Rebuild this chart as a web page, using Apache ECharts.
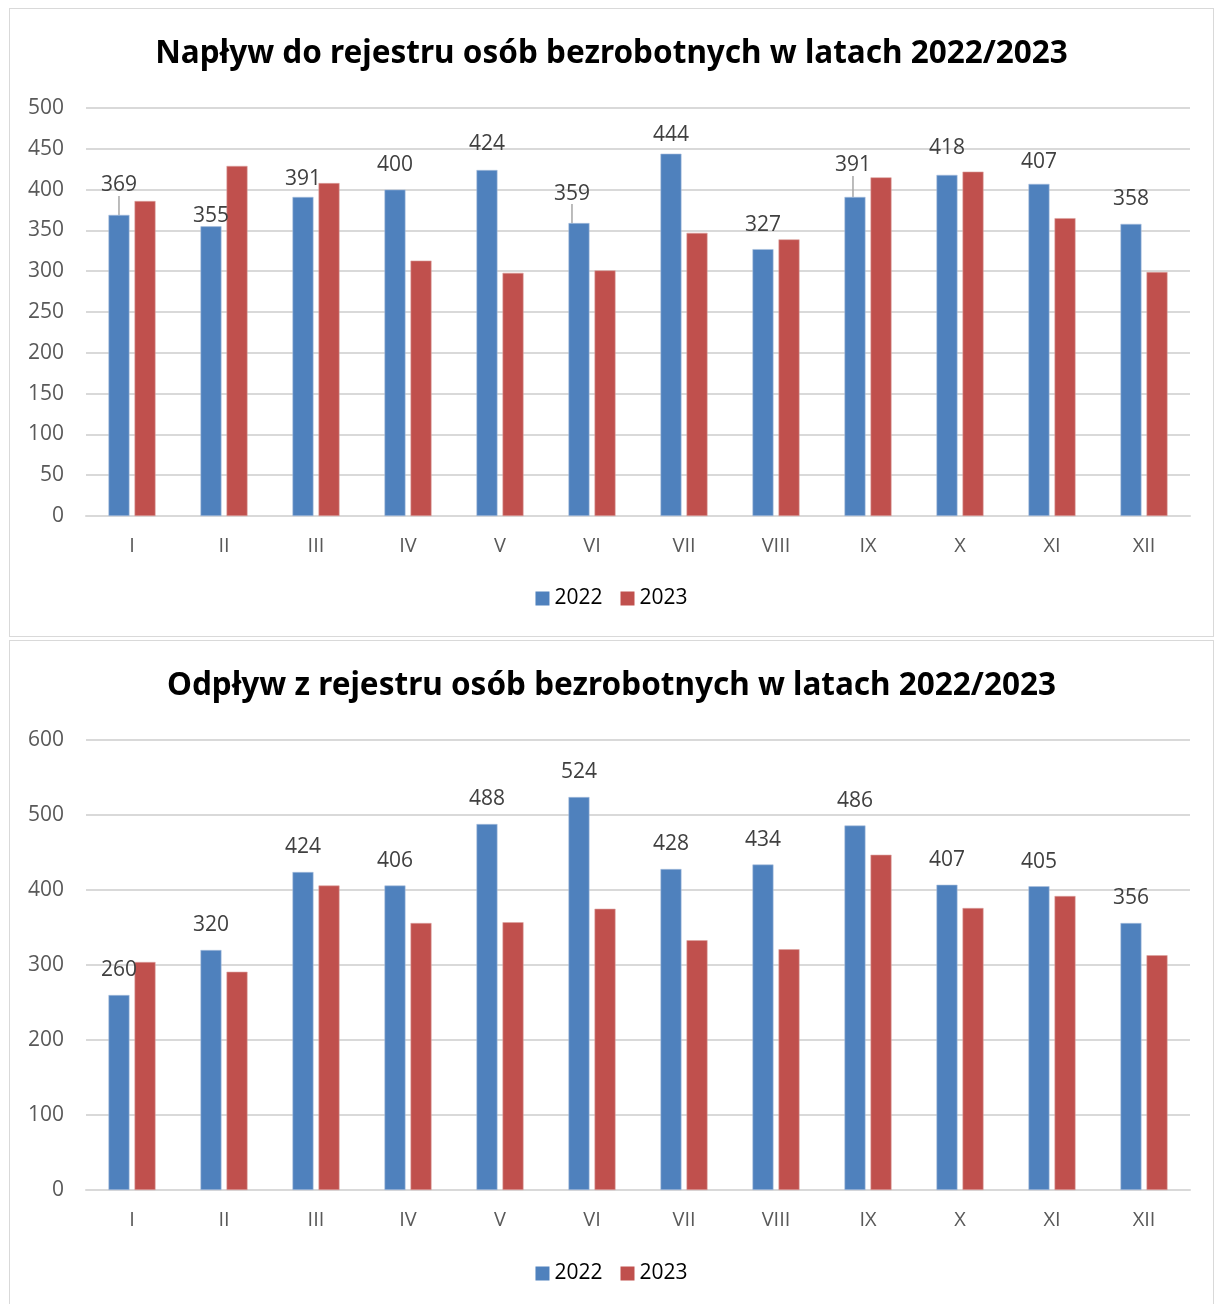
<!DOCTYPE html>
<html>
<head>
<meta charset="utf-8">
<script src="https://cdn.jsdelivr.net/npm/echarts@6/dist/echarts.min.js"></script>
<style>
  html, body { margin: 0; padding: 0; background: #fff; }
  .panel { position: absolute; left: 9px; width: 1203px; border: 1px solid #d9d9d9; background: #fff; }
  #top { top: 8px; height: 627px; }
  #bottom { top: 640px; height: 680px; }
</style>
</head>
<body>
<div id="top" class="panel"></div>
<div id="bottom" class="panel"></div>
<script>
// dane
var months = ["I", "II", "III", "IV", "V", "VI", "VII", "VIII", "IX", "X", "XI", "XII"];
var years = ["2022", "2023"];
var naplyw2022 = [369, 355, 391, 400, 424, 359, 444, 327, 391, 418, 407, 358];
var naplyw2023 = [386, 429, 408, 313, 298, 301, 347, 339, 415, 422, 365, 299];
var odplyw2022 = [260, 320, 424, 406, 488, 524, 428, 434, 486, 407, 405, 356];
var odplyw2023 = [304, 291, 406, 356, 357, 375, 333, 321, 447, 376, 392, 313];

var font = "'Open Sans', sans-serif";
var titleFont = "'Noto Sans', sans-serif";
var blue = "#4f81bd";
var red = "#c0504d";

// przesunięcia etykiet w pierwszym wykresie (jak w oryginale)
var shiftTop = { 0: [0, -5], 1: [0, 14], 2: [0, 7], 4: [0, -2], 5: [-7, -5], 6: [0, 6], 8: [-2, -7], 9: [0, -2], 10: [0, 3] };
var leaderTop = [0, 5, 8];

function buildOption(title, v2022, v2023, max, step, height, legendBottom, shifts, leaders) {
  var first = v2022.map(function (v, i) {
    var item = { value: v };
    if (leaders.indexOf(i) >= 0) {
      item.labelLine = { show: true, lineStyle: { color: "#a6a6a6", width: 1.5 } };
    }
    return item;
  });
  return {
    animation: false,
    textStyle: { fontFamily: font },
    title: {
      text: title,
      left: "center",
      top: 24,
      textStyle: { fontSize: 31.5, fontWeight: "bold", color: "#000", fontFamily: titleFont }
    },
    legend: {
      data: years,
      bottom: legendBottom,
      left: "center",
      itemWidth: 14,
      itemHeight: 14,
      itemGap: 18,
      icon: "rect",
      itemStyle: { borderWidth: 0 },
      textStyle: { fontSize: 21, color: "#000", fontFamily: font }
    },
    grid: { left: 76, top: 99, width: 1104, height: height },
    xAxis: {
      type: "category",
      data: months,
      axisTick: { show: false },
      axisLine: { lineStyle: { color: "#d9d9d9", width: 2 } },
      axisLabel: { fontSize: 20, color: "#595959", margin: 20, fontFamily: font }
    },
    yAxis: {
      type: "value",
      min: 0,
      max: max,
      interval: step,
      axisLine: { show: false },
      axisTick: { show: false },
      splitLine: { lineStyle: { color: "#d9d9d9", width: 2 } },
      axisLabel: { fontSize: 21, color: "#595959", margin: 22, fontFamily: font }
    },
    series: [
      {
        name: years[0],
        type: "bar",
        data: first,
        barWidth: 21,
        barGap: "24%",
        itemStyle: { color: blue, borderColor: "#a9c0de", borderWidth: 0.6 },
        label: {
          show: true,
          position: "top",
          distance: 14,
          fontSize: 21,
          color: "#404040",
          fontFamily: font
        },
        labelLine: { show: false },
        labelLayout: function (p) {
          var s = shifts[p.dataIndex];
          return s ? { dx: s[0], dy: s[1] } : {};
        }
      },
      {
        name: years[1],
        type: "bar",
        data: v2023,
        barWidth: 21,
        itemStyle: { color: red, borderColor: "#dba2a0", borderWidth: 0.6 }
      }
    ]
  };
}

var topChart = echarts.init(document.getElementById("top"));
topChart.setOption(buildOption("Napływ do rejestru osób bezrobotnych w latach 2022/2023",
  naplyw2022, naplyw2023, 500, 50, 408, 22, shiftTop, leaderTop));

var bottomChart = echarts.init(document.getElementById("bottom"));
bottomChart.setOption(buildOption("Odpływ z rejestru osób bezrobotnych w latach 2022/2023",
  odplyw2022, odplyw2023, 600, 100, 450, 32, {}, []));
</script>
</body>
</html>
